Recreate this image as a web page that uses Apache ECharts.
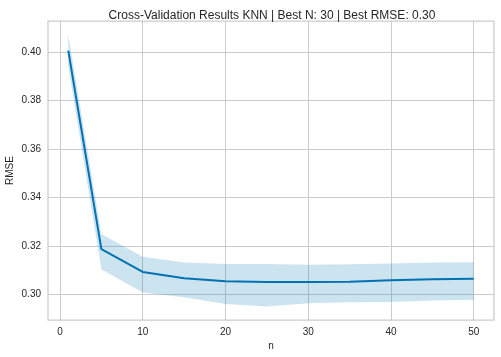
<!DOCTYPE html>
<html>
<head>
<meta charset="utf-8">
<script src="https://cdn.jsdelivr.net/npm/echarts@6/dist/echarts.min.js"></script>
<style>
html,body{margin:0;padding:0;background:#fff;}
#chart{width:501px;height:357px;}
</style>
</head>
<body>
<div id="chart"></div>
<script>
const nValues = [1, 5, 10, 15, 20, 25, 30, 35, 40, 45, 50];
const meanRmse = [0.4005, 0.3186, 0.3092, 0.3066, 0.3054, 0.3051, 0.3051, 0.3052, 0.3058, 0.3062, 0.3064];
const upperRmse = [0.4070, 0.3249, 0.3155, 0.3131, 0.3125, 0.3125, 0.3122, 0.3124, 0.3127, 0.3131, 0.3132];
const lowerRmse = [0.3940, 0.3103, 0.3007, 0.2988, 0.2960, 0.2950, 0.2963, 0.2967, 0.2968, 0.2974, 0.2978];
const xTicks = [0, 10, 20, 30, 40, 50];
const yTicks = [0.30, 0.32, 0.34, 0.36, 0.38, 0.40];
const titleText = 'Cross-Validation Results KNN | Best N: 30 | Best RMSE: 0.30';

const FONT = '"Liberation Sans", Arial, sans-serif';
const TXT = '#262626';
const GRID = '#cccccc';

const bandData = nValues.map((n, i) => [n, lowerRmse[i], upperRmse[i]]);
const meanData = nValues.map((n, i) => [n, meanRmse[i]]);

const chart = echarts.init(document.getElementById('chart'), null, {renderer: 'canvas'});
chart.setOption({
  animation: false,
  backgroundColor: '#ffffff',
  title: {
    text: titleText,
    left: 267, top: 5, textAlign: 'center',
    textStyle: {fontFamily: FONT, fontSize: 12, fontWeight: 'normal', color: TXT}
  },
  grid: {
    left: 48, right: 7, top: 21, bottom: 37,
    outerBoundsMode: 'none', containLabel: false,
    show: true, borderColor: GRID, borderWidth: 1.25, backgroundColor: '#ffffff'
  },
  xAxis: {
    type: 'value', min: -1.45, max: 52.45,
    name: 'n', nameLocation: 'middle', nameGap: 21, nameMoveOverlap: false,
    nameTextStyle: {fontFamily: FONT, fontSize: 10, color: TXT},
    axisLine: {show: false},
    axisTick: {show: false, customValues: xTicks},
    axisLabel: {customValues: xTicks, fontFamily: FONT, fontSize: 10, color: TXT, margin: 7},
    splitLine: {show: true, lineStyle: {color: GRID, width: 1}}
  },
  yAxis: {
    type: 'value', min: 0.2894, max: 0.4127,
    name: 'RMSE', nameLocation: 'middle', nameGap: 33, nameMoveOverlap: false,
    nameTextStyle: {fontFamily: FONT, fontSize: 10, color: TXT},
    axisLine: {show: false},
    axisTick: {show: false, customValues: yTicks},
    axisLabel: {customValues: yTicks, fontFamily: FONT, fontSize: 10, color: TXT, margin: 7,
      formatter: v => v.toFixed(2)},
    splitLine: {show: true, lineStyle: {color: GRID, width: 1}}
  },
  series: [
    {
      type: 'custom',
      data: bandData,
      encode: {x: 0, y: [1, 2]},
      silent: true,
      z: 3,
      renderItem: function (params, api) {
        if (params.dataIndex !== 0) return null;
        const pts = [];
        for (let i = 0; i < bandData.length; i++) pts.push(api.coord([bandData[i][0], bandData[i][2]]));
        for (let i = bandData.length - 1; i >= 0; i--) pts.push(api.coord([bandData[i][0], bandData[i][1]]));
        return {
          type: 'polygon',
          shape: {points: pts},
          style: {fill: 'rgba(0,114,178,0.2)', stroke: 'none'}
        };
      }
    },
    {
      type: 'line', data: meanData, symbol: 'none',
      lineStyle: {color: '#0072B2', width: 2}, z: 5
    }
  ]
});
</script>
</body>
</html>
